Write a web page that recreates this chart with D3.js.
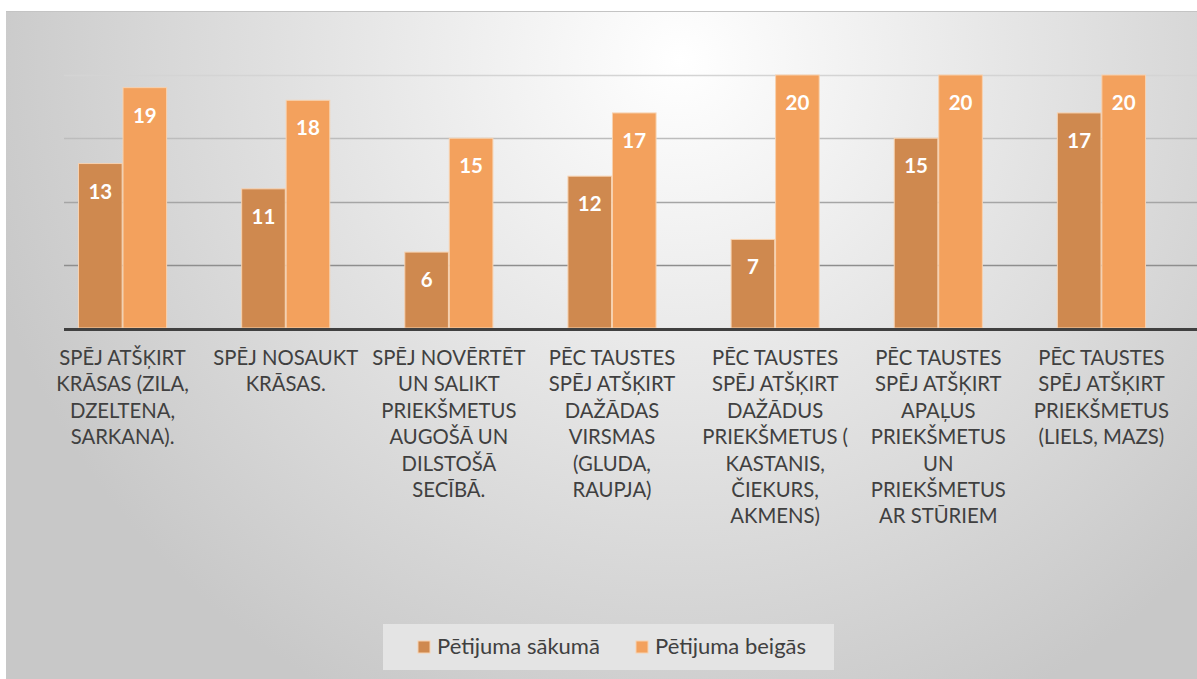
<!DOCTYPE html>
<html>
<head>
<meta charset="utf-8">
<script src="https://cdn.jsdelivr.net/npm/d3@7"></script>
<style>
  body { margin: 0; background: #fff; }
  svg { display: block; font-family: Lato, "Open Sans", sans-serif; }
</style>
</head>
<body>
<div id="chart"></div>
<script>
const width = 1197;
const height = 679;

// data
const categories = [
    ["SPĒJ ATŠĶIRT", "KRĀSAS (ZILA,", "DZELTENA,", "SARKANA)."],
    ["SPĒJ NOSAUKT", "KRĀSAS."],
    ["SPĒJ NOVĒRTĒT", "UN SALIKT", "PRIEKŠMETUS", "AUGOŠĀ UN", "DILSTOŠĀ", "SECĪBĀ."],
    ["PĒC TAUSTES", "SPĒJ ATŠĶIRT", "DAŽĀDAS", "VIRSMAS", "(GLUDA,", "RAUPJA)"],
    ["PĒC TAUSTES", "SPĒJ ATŠĶIRT", "DAŽĀDUS", "PRIEKŠMETUS (", "KASTANIS,", "ČIEKURS,", "AKMENS)"],
    ["PĒC TAUSTES", "SPĒJ ATŠĶIRT", "APAĻUS", "PRIEKŠMETUS", "UN", "PRIEKŠMETUS", "AR STŪRIEM"],
    ["PĒC TAUSTES", "SPĒJ ATŠĶIRT", "PRIEKŠMETUS", "(LIELS, MAZS)"]
];
const seriesNames = ["Pētijuma sākumā", "Pētijuma beigās"];
const startValues = [13, 11, 6, 12, 7, 15, 17];
const endValues = [19, 18, 15, 17, 20, 20, 20];
const gridTicks = [5, 10, 15, 20];
const colors = ["#cf894f", "#f3a15d"];

const svg = d3.select("#chart")
    .append("svg")
    .attr("width", width)
    .attr("height", height);

const defs = svg.append("defs");

const bg = defs.append("radialGradient")
    .attr("id", "bg")
    .attr("gradientUnits", "userSpaceOnUse")
    .attr("cx", 680).attr("cy", 60).attr("r", 720);
bg.append("stop").attr("offset", "0%").attr("stop-color", "#ffffff");
bg.append("stop").attr("offset", "45%").attr("stop-color", "#e6e6e6");
bg.append("stop").attr("offset", "100%").attr("stop-color", "#c8c8c8");

const gridGrad = defs.append("linearGradient")
    .attr("id", "gridGrad")
    .attr("gradientUnits", "userSpaceOnUse")
    .attr("x1", 0).attr("y1", 70).attr("x2", 0).attr("y2", 270);
gridGrad.append("stop").attr("offset", "0%").attr("stop-color", "#d6d6d6");
gridGrad.append("stop").attr("offset", "100%").attr("stop-color", "#8c8c8c");

// chart area
svg.append("rect")
    .attr("x", 6).attr("y", 11)
    .attr("width", width - 6).attr("height", height - 11)
    .attr("fill", "url(#bg)");
svg.append("line")
    .attr("x1", 6).attr("x2", width)
    .attr("y1", 11.5).attr("y2", 11.5)
    .attr("stroke", "#c4c4c4");

const x0 = d3.scaleBand()
    .domain(d3.range(categories.length))
    .range([41, 1183])
    .paddingInner(0.46)
    .paddingOuter(0.23);

const x1 = d3.scaleBand()
    .domain([0, 1])
    .range([0, x0.bandwidth()])
    .paddingInner(0.02);

const y = d3.scaleLinear()
    .domain([0, 20])
    .range([328, 75]);

// gridlines
svg.append("g")
    .selectAll("line")
    .data(gridTicks)
    .join("line")
    .attr("x1", 64).attr("x2", width)
    .attr("y1", d => Math.round(y(d)) + 0.5)
    .attr("y2", d => Math.round(y(d)) + 0.5)
    .attr("stroke", "url(#gridGrad)")
    .attr("stroke-width", 1.3);

// bars
const rows = categories.map((c, i) => [startValues[i], endValues[i]]);

const groups = svg.append("g")
    .selectAll("g")
    .data(rows)
    .join("g")
    .attr("transform", (d, i) => `translate(${x0(i)},0)`);

groups.selectAll("rect")
    .data(d => d)
    .join("rect")
    .attr("x", (d, j) => x1(j))
    .attr("y", d => y(d))
    .attr("width", x1.bandwidth())
    .attr("height", d => y(0) - y(d))
    .attr("fill", (d, j) => colors[j])
    .attr("stroke", "#f7d2b0")
    .attr("stroke-width", 1);

groups.selectAll("text")
    .data(d => d)
    .join("text")
    .attr("x", (d, j) => x1(j) + x1.bandwidth() / 2)
    .attr("y", d => y(d) + 35)
    .attr("text-anchor", "middle")
    .attr("fill", "#fff")
    .attr("font-weight", "bold")
    .attr("font-size", 20.5)
    .text(d => d);

// baseline
svg.append("line")
    .attr("x1", 64).attr("x2", width)
    .attr("y1", y(0) + 1.5).attr("y2", y(0) + 1.5)
    .attr("stroke", "#404040")
    .attr("stroke-width", 3);

// category labels
const labels = svg.append("g")
    .selectAll("text")
    .data(categories)
    .join("text")
    .attr("text-anchor", "middle")
    .attr("fill", "#404040")
    .attr("font-size", 20.3);

labels.selectAll("tspan")
    .data((d, i) => d.map(line => ({ line, i })))
    .join("tspan")
    .attr("x", d => x0(d.i) + x0.bandwidth() / 2)
    .attr("y", (d, k) => 365 + k * 26.4)
    .text(d => d.line);

// legend
const legend = svg.append("g");
legend.append("rect")
    .attr("x", 383).attr("y", 624)
    .attr("width", 451).attr("height", 46)
    .attr("fill", "#e4e4e4");

const legendX = [418, 636];
const items = legend.selectAll("g")
    .data(seriesNames)
    .join("g")
    .attr("transform", (d, i) => `translate(${legendX[i]},641)`);

items.append("rect")
    .attr("width", 12).attr("height", 12)
    .attr("fill", (d, i) => colors[i])
    .attr("stroke", "#f7d2b0");

items.append("text")
    .attr("x", 19).attr("y", 13)
    .attr("fill", "#404040")
    .attr("font-size", 22)
    .text(d => d);
</script>
</body>
</html>
